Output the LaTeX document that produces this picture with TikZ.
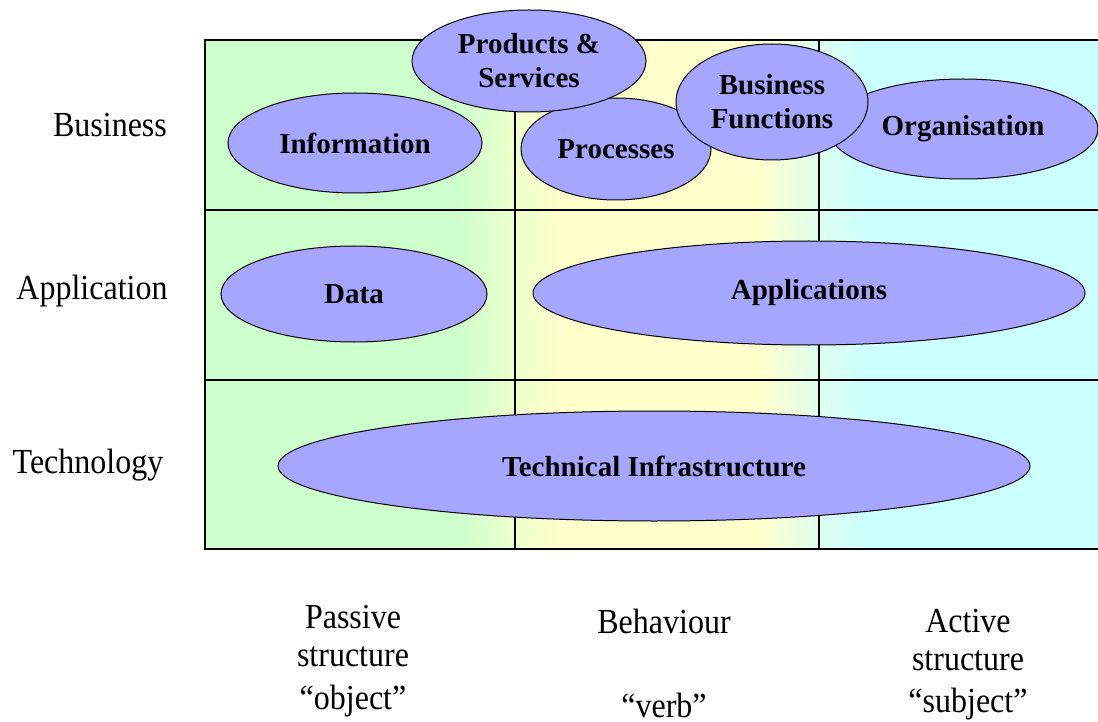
\documentclass[tikz,border=0pt]{standalone}
\usepackage{fontspec}
\setmainfont{Liberation Serif}
\usetikzlibrary{shapes.geometric}
\definecolor{passgreen}{HTML}{CCFFCC}
\definecolor{passlight}{HTML}{EEFFCC}
\definecolor{behyellow}{HTML}{FFFFCC}
\definecolor{actlight}{HTML}{DDFFEE}
\definecolor{actcyan}{HTML}{CCFFFF}
\definecolor{blobblue}{HTML}{A6A6FF}
\newcommand{\tall}[1]{\scalebox{1}[1.1]{#1}}

\begin{document}
\begin{tikzpicture}[x=1pt,y=-1pt,
	blob/.style={ellipse,draw=black,line width=1pt,fill=blobblue,inner sep=0pt,align=center,
		font=\fontsize{29}{34}\selectfont\bfseries},
	lbl/.style={inner sep=0pt,font=\fontsize{32}{38}\selectfont},
	grid/.style={line width=1.5pt}]
	\useasboundingbox (0,0) rectangle (1098,722);
	
	% columns
	\fill[passgreen] (205,40) rectangle (455,549);
	\shade[left color=passgreen,right color=passlight] (455,40) rectangle (515,549);
	\shade[left color=passlight,right color=behyellow] (515,40) rectangle (565,549);
	\fill[behyellow] (565,40) rectangle (760,549);
	\shade[left color=behyellow,right color=actlight] (760,40) rectangle (819,549);
	\shade[left color=actlight,right color=actcyan] (819,40) rectangle (865,549);
	\fill[actcyan] (865,40) rectangle (1098,549);
	
	\draw[grid] (1099,40) -- (205,40) -- (205,549) -- (1099,549);
	\draw[grid] (205,210) -- (1099,210);
	\draw[grid] (205,380) -- (1099,380);
	\draw[grid] (515,40) -- (515,549);
	\draw[grid] (819,40) -- (819,549);
	
	% business layer
	\node[blob,minimum width=254,minimum height=100] (info) at (355,143) {Information};
	\node[blob,minimum width=190,minimum height=102] (proc) at (616,149) {\raisebox{-3pt}{Processes}};
	\node[blob,minimum width=270,minimum height=100] (org) at (963,129) {\raisebox{-3pt}{Organisation}};
	\node[blob,minimum width=192,minimum height=116] (bfun) at (772,102) {Business\\Functions};
	\node[blob,minimum width=234,minimum height=102] (prod) at (529,61) {Products \&\\Services};
	
	% application layer
	\node[blob,minimum width=266,minimum height=96] (data) at (354,294) {Data};
	\node[blob,minimum width=552,minimum height=104] (apps) at (809,293) {Applications};
	
	% technology layer
	\node[blob,minimum width=752,minimum height=110] (tinf) at (654,466) {Technical Infrastructure};
	
	\node[lbl] (lbus) at (110,125) {\tall{Business}};
	\node[lbl] (lapp) at (92,291) {\tall{Application}};
	\node[lbl] (ltec) at (88,465) {\tall{Technology}};
	
	\node[lbl] (pas1) at (353,617) {\tall{Passive}};
	\node[lbl] (pas2) at (353,657) {\tall{structure}};
	\node[lbl] (pas3) at (353,701) {\tall{“object”}};
	\node[lbl] (beh1) at (664,621) {\tall{Behaviour}};
	\node[lbl] (beh3) at (664,705) {\tall{“verb”}};
	\node[lbl] (act1) at (968,621) {\tall{Active}};
	\node[lbl] (act2) at (968,661) {\tall{structure}};
	\node[lbl] (act3) at (968,704) {\tall{“subject”}};
\end{tikzpicture}
\end{document}
